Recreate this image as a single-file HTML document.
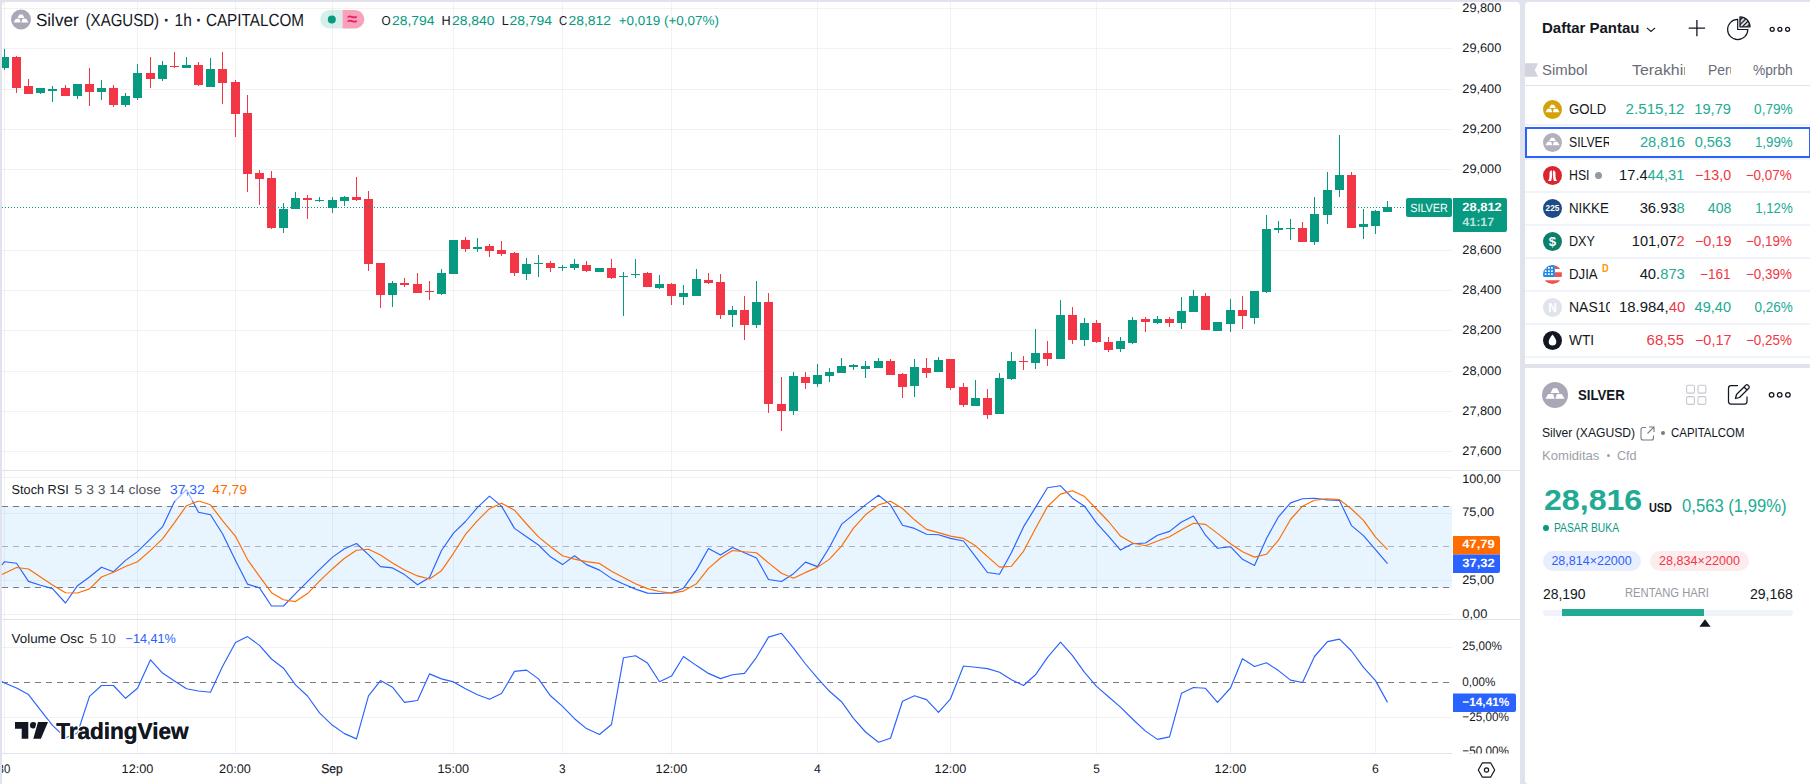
<!DOCTYPE html>
<html lang="id">
<head>
<meta charset="utf-8">
<title>Silver (XAGUSD) 1h CAPITALCOM</title>
<style>
*{box-sizing:border-box;margin:0;padding:0}
html,body{width:1810px;height:784px;overflow:hidden;background:#e0e3eb;font-family:"Liberation Sans",sans-serif;color:#131722}
.chart{position:absolute;left:0;top:0;display:block}
.side{position:absolute;left:1525px;width:285px;background:#fff}
.wl{top:2px;height:362px;border-radius:4px 0 0 0}
.det{top:368px;height:416px;border-radius:0 0 0 4px}
.abs{position:absolute;white-space:nowrap;line-height:1}
.fx{display:inline-block;white-space:nowrap;transform-origin:0 50%}
.fxr{transform-origin:100% 50%}
.fxc{transform-origin:50% 50%}
.hd{font-weight:bold;font-size:15px;left:17.4px;top:18.3px}
.colh{font-size:14px;color:#6a6d78;top:60.6px}
.row{position:absolute;left:0;width:285px;height:33px;font-size:14px}
.sep{position:absolute;left:0;width:285px;height:2px;background:#f0f3fa}
.ic{position:absolute;left:18px;top:7px;width:19px;height:19px;border-radius:50%;overflow:hidden}
.sym{position:absolute;left:44.2px;top:9.4px;line-height:1;white-space:nowrap;overflow:hidden;height:16px}
.v{position:absolute;top:9.4px;line-height:1;white-space:nowrap;text-align:right}
.last{right:125.5px}
.chg{right:79px}
.pct{right:17.7px}
.g{color:#22ab94}.r{color:#f23645}
.sel{position:absolute;left:0;top:125px;width:285px;height:31px;border:2px solid #2962ff;border-right-width:1.5px;pointer-events:none}
</style>
</head>
<body>
<svg class="chart" width="1521" height="784" viewBox="0 0 1521 784" shape-rendering="crispEdges" text-rendering="geometricPrecision">
<path d="M2 784V6a4 4 0 0 1 4-4H1516a4 4 0 0 1 4 4V784z" fill="#fff" shape-rendering="auto"/>
<g stroke-opacity="0.062" stroke-width="1">
<line x1="4.5" y1="2" x2="4.5" y2="753" stroke="#2a2e39" />
<line x1="137.5" y1="2" x2="137.5" y2="753" stroke="#2a2e39" />
<line x1="235.5" y1="2" x2="235.5" y2="753" stroke="#2a2e39" />
<line x1="332.5" y1="2" x2="332.5" y2="753" stroke="#2a2e39" />
<line x1="453.5" y1="2" x2="453.5" y2="753" stroke="#2a2e39" />
<line x1="562.5" y1="2" x2="562.5" y2="753" stroke="#2a2e39" />
<line x1="671.5" y1="2" x2="671.5" y2="753" stroke="#2a2e39" />
<line x1="817.5" y1="2" x2="817.5" y2="753" stroke="#2a2e39" />
<line x1="950.5" y1="2" x2="950.5" y2="753" stroke="#2a2e39" />
<line x1="1096.5" y1="2" x2="1096.5" y2="753" stroke="#2a2e39" />
<line x1="1230.5" y1="2" x2="1230.5" y2="753" stroke="#2a2e39" />
<line x1="1375.5" y1="2" x2="1375.5" y2="753" stroke="#2a2e39" />
<line x1="2" y1="8.5" x2="1452" y2="8.5" stroke="#2a2e39" />
<line x1="2" y1="48.5" x2="1452" y2="48.5" stroke="#2a2e39" />
<line x1="2" y1="89.5" x2="1452" y2="89.5" stroke="#2a2e39" />
<line x1="2" y1="129.5" x2="1452" y2="129.5" stroke="#2a2e39" />
<line x1="2" y1="169.5" x2="1452" y2="169.5" stroke="#2a2e39" />
<line x1="2" y1="250.5" x2="1452" y2="250.5" stroke="#2a2e39" />
<line x1="2" y1="290.5" x2="1452" y2="290.5" stroke="#2a2e39" />
<line x1="2" y1="330.5" x2="1452" y2="330.5" stroke="#2a2e39" />
<line x1="2" y1="371.5" x2="1452" y2="371.5" stroke="#2a2e39" />
<line x1="2" y1="411.5" x2="1452" y2="411.5" stroke="#2a2e39" />
<line x1="2" y1="451.5" x2="1452" y2="451.5" stroke="#2a2e39" />
<line x1="2" y1="477.5" x2="1452" y2="477.5" stroke="#2a2e39" />
<line x1="2" y1="513.5" x2="1452" y2="513.5" stroke="#2a2e39" />
<line x1="2" y1="580.5" x2="1452" y2="580.5" stroke="#2a2e39" />
<line x1="2" y1="614.5" x2="1452" y2="614.5" stroke="#2a2e39" />
<line x1="2" y1="647.5" x2="1452" y2="647.5" stroke="#2a2e39" />
<line x1="2" y1="717.5" x2="1452" y2="717.5" stroke="#2a2e39" />
</g>
<rect x="2" y="505.5" width="1450" height="82" fill="#2196f3" fill-opacity="0.1"/>
<line x1="2" y1="470.5" x2="1520" y2="470.5" stroke="#e0e3eb" />
<line x1="2" y1="619.5" x2="1520" y2="619.5" stroke="#e0e3eb" />
<line x1="2" y1="753.5" x2="1452" y2="753.5" stroke="#e0e3eb" />
<line x1="2" y1="506" x2="1452" y2="506" stroke="#787b86" stroke-dasharray="6 5"/>
<line x1="2" y1="587.5" x2="1452" y2="587.5" stroke="#787b86" stroke-dasharray="6 5"/>
<line x1="2" y1="546.5" x2="1452" y2="546.5" stroke="#787b86" stroke-opacity="0.55" stroke-dasharray="6 5"/>
<line x1="2" y1="682.5" x2="1452" y2="682.5" stroke="#787b86" stroke-dasharray="6 5"/>
<g fill="#089981">
<rect x="4" y="49" width="1" height="21"/>
<rect x="2" y="57" width="7" height="11"/>
<rect x="40" y="88" width="1" height="6"/>
<rect x="36" y="88" width="9" height="5"/>
<rect x="52" y="86" width="1" height="16"/>
<rect x="48" y="89" width="9" height="2"/>
<rect x="77" y="84" width="1" height="15"/>
<rect x="73" y="84" width="9" height="12"/>
<rect x="101" y="80" width="1" height="20"/>
<rect x="97" y="88" width="9" height="4"/>
<rect x="125" y="93" width="1" height="14"/>
<rect x="121" y="96" width="9" height="9"/>
<rect x="137" y="64" width="1" height="36"/>
<rect x="133" y="73" width="9" height="25"/>
<rect x="162" y="61" width="1" height="20"/>
<rect x="158" y="65" width="9" height="14"/>
<rect x="186" y="57" width="1" height="11"/>
<rect x="182" y="65" width="9" height="3"/>
<rect x="210" y="58" width="1" height="29"/>
<rect x="206" y="69" width="9" height="18"/>
<rect x="283" y="203" width="1" height="30"/>
<rect x="279" y="209" width="9" height="19"/>
<rect x="295" y="192" width="1" height="17"/>
<rect x="291" y="198" width="9" height="11"/>
<rect x="319" y="197" width="1" height="5"/>
<rect x="315" y="200" width="9" height="1"/>
<rect x="332" y="197" width="1" height="16"/>
<rect x="328" y="200" width="9" height="8"/>
<rect x="344" y="196" width="1" height="10"/>
<rect x="340" y="197" width="9" height="4"/>
<rect x="392" y="281" width="1" height="26"/>
<rect x="388" y="283" width="9" height="12"/>
<rect x="441" y="269" width="1" height="26"/>
<rect x="437" y="273" width="9" height="21"/>
<rect x="453" y="240" width="1" height="34"/>
<rect x="449" y="240" width="9" height="34"/>
<rect x="477" y="238" width="1" height="14"/>
<rect x="473" y="247" width="9" height="2"/>
<rect x="526" y="258" width="1" height="22"/>
<rect x="522" y="264" width="9" height="10"/>
<rect x="538" y="255" width="1" height="22"/>
<rect x="534" y="263" width="9" height="1"/>
<rect x="562" y="265" width="1" height="6"/>
<rect x="558" y="267" width="9" height="1"/>
<rect x="574" y="259" width="1" height="11"/>
<rect x="570" y="264" width="9" height="4"/>
<rect x="599" y="268" width="1" height="4"/>
<rect x="595" y="268" width="9" height="4"/>
<rect x="623" y="272" width="1" height="44"/>
<rect x="619" y="276" width="9" height="1"/>
<rect x="635" y="259" width="1" height="19"/>
<rect x="631" y="274" width="9" height="1"/>
<rect x="659" y="275" width="1" height="14"/>
<rect x="655" y="284" width="9" height="4"/>
<rect x="683" y="285" width="1" height="20"/>
<rect x="679" y="293" width="9" height="4"/>
<rect x="696" y="269" width="1" height="27"/>
<rect x="692" y="279" width="9" height="17"/>
<rect x="732" y="306" width="1" height="21"/>
<rect x="728" y="310" width="9" height="5"/>
<rect x="756" y="281" width="1" height="47"/>
<rect x="752" y="302" width="9" height="23"/>
<rect x="793" y="372" width="1" height="43"/>
<rect x="789" y="376" width="9" height="35"/>
<rect x="817" y="364" width="1" height="23"/>
<rect x="813" y="375" width="9" height="9"/>
<rect x="829" y="368" width="1" height="14"/>
<rect x="825" y="372" width="9" height="4"/>
<rect x="841" y="358" width="1" height="15"/>
<rect x="837" y="366" width="9" height="7"/>
<rect x="853" y="364" width="1" height="6"/>
<rect x="849" y="365" width="9" height="2"/>
<rect x="865" y="361" width="1" height="17"/>
<rect x="861" y="366" width="9" height="3"/>
<rect x="878" y="358" width="1" height="10"/>
<rect x="874" y="361" width="9" height="7"/>
<rect x="914" y="359" width="1" height="38"/>
<rect x="910" y="367" width="9" height="19"/>
<rect x="938" y="357" width="1" height="15"/>
<rect x="934" y="360" width="9" height="12"/>
<rect x="975" y="380" width="1" height="26"/>
<rect x="971" y="398" width="9" height="8"/>
<rect x="999" y="373" width="1" height="41"/>
<rect x="995" y="378" width="9" height="36"/>
<rect x="1011" y="352" width="1" height="28"/>
<rect x="1007" y="361" width="9" height="18"/>
<rect x="1035" y="329" width="1" height="40"/>
<rect x="1031" y="353" width="9" height="10"/>
<rect x="1060" y="300" width="1" height="59"/>
<rect x="1056" y="315" width="9" height="44"/>
<rect x="1084" y="318" width="1" height="28"/>
<rect x="1080" y="323" width="9" height="17"/>
<rect x="1120" y="337" width="1" height="15"/>
<rect x="1116" y="341" width="9" height="8"/>
<rect x="1132" y="317" width="1" height="27"/>
<rect x="1128" y="320" width="9" height="23"/>
<rect x="1157" y="316" width="1" height="8"/>
<rect x="1153" y="319" width="9" height="4"/>
<rect x="1181" y="297" width="1" height="32"/>
<rect x="1177" y="311" width="9" height="12"/>
<rect x="1193" y="290" width="1" height="22"/>
<rect x="1189" y="296" width="9" height="16"/>
<rect x="1217" y="322" width="1" height="9"/>
<rect x="1213" y="322" width="9" height="9"/>
<rect x="1230" y="299" width="1" height="33"/>
<rect x="1226" y="310" width="9" height="14"/>
<rect x="1254" y="291" width="1" height="33"/>
<rect x="1250" y="291" width="9" height="27"/>
<rect x="1266" y="215" width="1" height="78"/>
<rect x="1262" y="229" width="9" height="63"/>
<rect x="1278" y="221" width="1" height="12"/>
<rect x="1274" y="228" width="9" height="2"/>
<rect x="1290" y="219" width="1" height="21"/>
<rect x="1286" y="228" width="9" height="1"/>
<rect x="1314" y="197" width="1" height="48"/>
<rect x="1310" y="214" width="9" height="28"/>
<rect x="1327" y="172" width="1" height="52"/>
<rect x="1323" y="190" width="9" height="25"/>
<rect x="1339" y="135" width="1" height="62"/>
<rect x="1335" y="175" width="9" height="15"/>
<rect x="1363" y="209" width="1" height="30"/>
<rect x="1359" y="224" width="9" height="3"/>
<rect x="1375" y="210" width="1" height="24"/>
<rect x="1371" y="211" width="9" height="15"/>
<rect x="1387" y="201" width="1" height="11"/>
<rect x="1383" y="207" width="9" height="5"/>
</g>
<g fill="#f23645">
<rect x="16" y="56" width="1" height="37"/>
<rect x="12" y="57" width="9" height="31"/>
<rect x="28" y="79" width="1" height="15"/>
<rect x="24" y="86" width="9" height="8"/>
<rect x="65" y="85" width="1" height="11"/>
<rect x="61" y="88" width="9" height="8"/>
<rect x="89" y="68" width="1" height="38"/>
<rect x="85" y="84" width="9" height="8"/>
<rect x="113" y="85" width="1" height="22"/>
<rect x="109" y="88" width="9" height="17"/>
<rect x="150" y="57" width="1" height="31"/>
<rect x="146" y="73" width="9" height="6"/>
<rect x="174" y="52" width="1" height="16"/>
<rect x="170" y="66" width="9" height="1"/>
<rect x="198" y="62" width="1" height="24"/>
<rect x="194" y="65" width="9" height="20"/>
<rect x="222" y="52" width="1" height="52"/>
<rect x="218" y="69" width="9" height="14"/>
<rect x="235" y="80" width="1" height="57"/>
<rect x="231" y="82" width="9" height="32"/>
<rect x="247" y="95" width="1" height="97"/>
<rect x="243" y="113" width="9" height="61"/>
<rect x="259" y="170" width="1" height="35"/>
<rect x="255" y="173" width="9" height="6"/>
<rect x="271" y="171" width="1" height="58"/>
<rect x="267" y="178" width="9" height="50"/>
<rect x="307" y="195" width="1" height="24"/>
<rect x="303" y="198" width="9" height="2"/>
<rect x="356" y="177" width="1" height="24"/>
<rect x="352" y="197" width="9" height="3"/>
<rect x="368" y="191" width="1" height="80"/>
<rect x="364" y="199" width="9" height="65"/>
<rect x="380" y="263" width="1" height="45"/>
<rect x="376" y="263" width="9" height="32"/>
<rect x="404" y="278" width="1" height="9"/>
<rect x="400" y="283" width="9" height="2"/>
<rect x="417" y="273" width="1" height="20"/>
<rect x="413" y="284" width="9" height="9"/>
<rect x="429" y="281" width="1" height="19"/>
<rect x="425" y="291" width="9" height="1"/>
<rect x="465" y="237" width="1" height="15"/>
<rect x="461" y="240" width="9" height="9"/>
<rect x="489" y="244" width="1" height="13"/>
<rect x="485" y="246" width="9" height="5"/>
<rect x="501" y="241" width="1" height="15"/>
<rect x="497" y="250" width="9" height="4"/>
<rect x="514" y="252" width="1" height="24"/>
<rect x="510" y="253" width="9" height="20"/>
<rect x="550" y="261" width="1" height="11"/>
<rect x="546" y="263" width="9" height="5"/>
<rect x="586" y="261" width="1" height="11"/>
<rect x="582" y="265" width="9" height="6"/>
<rect x="611" y="259" width="1" height="20"/>
<rect x="607" y="268" width="9" height="10"/>
<rect x="647" y="272" width="1" height="15"/>
<rect x="643" y="273" width="9" height="14"/>
<rect x="671" y="283" width="1" height="22"/>
<rect x="667" y="284" width="9" height="12"/>
<rect x="708" y="273" width="1" height="11"/>
<rect x="704" y="280" width="9" height="3"/>
<rect x="720" y="274" width="1" height="45"/>
<rect x="716" y="282" width="9" height="33"/>
<rect x="744" y="296" width="1" height="44"/>
<rect x="740" y="310" width="9" height="15"/>
<rect x="768" y="293" width="1" height="120"/>
<rect x="764" y="302" width="9" height="102"/>
<rect x="781" y="377" width="1" height="54"/>
<rect x="777" y="404" width="9" height="7"/>
<rect x="805" y="372" width="1" height="17"/>
<rect x="801" y="377" width="9" height="6"/>
<rect x="890" y="359" width="1" height="16"/>
<rect x="886" y="361" width="9" height="14"/>
<rect x="902" y="373" width="1" height="25"/>
<rect x="898" y="374" width="9" height="13"/>
<rect x="926" y="358" width="1" height="20"/>
<rect x="922" y="368" width="9" height="5"/>
<rect x="950" y="359" width="1" height="31"/>
<rect x="946" y="359" width="9" height="29"/>
<rect x="963" y="383" width="1" height="24"/>
<rect x="959" y="387" width="9" height="18"/>
<rect x="987" y="389" width="1" height="30"/>
<rect x="983" y="398" width="9" height="17"/>
<rect x="1023" y="356" width="1" height="14"/>
<rect x="1019" y="361" width="9" height="1"/>
<rect x="1047" y="341" width="1" height="25"/>
<rect x="1043" y="353" width="9" height="6"/>
<rect x="1072" y="307" width="1" height="37"/>
<rect x="1068" y="315" width="9" height="25"/>
<rect x="1096" y="320" width="1" height="23"/>
<rect x="1092" y="323" width="9" height="19"/>
<rect x="1108" y="337" width="1" height="15"/>
<rect x="1104" y="342" width="9" height="8"/>
<rect x="1145" y="317" width="1" height="15"/>
<rect x="1141" y="319" width="9" height="3"/>
<rect x="1169" y="317" width="1" height="10"/>
<rect x="1165" y="319" width="9" height="4"/>
<rect x="1205" y="293" width="1" height="37"/>
<rect x="1201" y="296" width="9" height="34"/>
<rect x="1242" y="296" width="1" height="33"/>
<rect x="1238" y="310" width="9" height="6"/>
<rect x="1302" y="222" width="1" height="20"/>
<rect x="1298" y="228" width="9" height="14"/>
<rect x="1351" y="172" width="1" height="56"/>
<rect x="1347" y="175" width="9" height="53"/>
</g>
<line x1="2" y1="207.5" x2="1406" y2="207.5" stroke="#089981" stroke-dasharray="1 2"/>
<polyline points="2,565 4.5,561.7 16.5,563.2 28.5,581.4 40.5,585.3 52.5,588.6 65.5,603 77.5,585.7 89.5,577 101.5,567.2 113.5,571.7 125.5,560.4 137.5,551.6 150.5,538.8 162.5,526.9 174.5,501.5 186.5,489.6 198.5,512.3 210.5,514.8 222.5,533.8 235.5,560.4 247.5,584.1 259.5,587.9 271.5,606 283.5,606 295.5,593.6 307.5,581.7 319.5,569.6 332.5,557.1 344.5,548.8 356.5,543.5 368.5,554.7 380.5,566.6 392.5,567.9 404.5,574.6 417.5,584.8 429.5,577.4 441.5,550.5 453.5,533.1 465.5,521.5 477.5,507.4 489.5,496.1 501.5,506.1 514.5,528.4 526.5,536.7 538.5,545 550.5,556.8 562.5,564.6 574.5,555.8 586.5,564.6 599.5,570.1 611.5,578.4 623.5,584 635.5,589.1 647.5,593.1 659.5,593.5 671.5,592.8 683.5,588.2 696.5,569.9 708.5,548.5 720.5,555 732.5,547.5 744.5,552.7 756.5,558 768.5,579.5 781.5,581.5 793.5,573.7 805.5,562.1 817.5,566.6 829.5,547.2 841.5,524.4 853.5,514.6 865.5,504.9 878.5,495.3 890.5,504.9 902.5,525.3 914.5,528.4 926.5,534.2 938.5,534.7 950.5,538.4 963.5,541 975.5,556.6 987.5,572.5 999.5,574.2 1011.5,552.5 1023.5,526.9 1035.5,507.4 1047.5,487.8 1060.5,485.8 1072.5,498.2 1084.5,506.2 1096.5,522.8 1108.5,536.1 1120.5,550.1 1132.5,543.8 1145.5,543 1157.5,535.2 1169.5,531.4 1181.5,522 1193.5,516 1205.5,535.2 1217.5,548.3 1230.5,546.7 1242.5,559.3 1254.5,565.4 1266.5,538.5 1278.5,516.8 1290.5,502.9 1302.5,498.7 1314.5,498.2 1327.5,499.9 1339.5,500.4 1351.5,525.6 1363.5,535.6 1375.5,549.7 1387.5,563.6" fill="none" stroke="#2962ff" stroke-width="1.15" stroke-linejoin="round" shape-rendering="geometricPrecision"/>
<polyline points="2,574.5 4.5,573.2 16.5,567.5 28.5,569 40.5,577 52.5,584.9 65.5,592.7 77.5,593 89.5,588.9 101.5,577 113.5,572.3 125.5,566.5 137.5,561.7 150.5,550.4 162.5,538.8 174.5,522.7 186.5,505.7 198.5,501 210.5,504.8 222.5,520.6 235.5,536.3 247.5,559.6 259.5,576.4 271.5,592.7 283.5,599.7 295.5,601.6 307.5,593.6 319.5,581.2 332.5,568.7 344.5,558.3 356.5,550.3 368.5,549.2 380.5,555.1 392.5,562.9 404.5,569.9 417.5,575.9 429.5,579 441.5,570.7 453.5,553.3 465.5,534.4 477.5,520.7 489.5,508.7 501.5,503.2 514.5,510.2 526.5,524 538.5,536.9 550.5,546.7 562.5,555.8 574.5,559.1 586.5,561.6 599.5,563.4 611.5,571.2 623.5,577.5 635.5,583.7 647.5,588.6 659.5,591.5 671.5,593.1 683.5,591.1 696.5,583.7 708.5,568.4 720.5,558 732.5,550.5 744.5,551.8 756.5,552.7 768.5,562.9 781.5,573.2 793.5,578.2 805.5,572.4 817.5,567.4 829.5,559.1 841.5,546.1 853.5,528.1 865.5,514.8 878.5,504.9 890.5,501.2 902.5,508.5 914.5,519.8 926.5,529.4 938.5,532.6 950.5,536.1 963.5,538.4 975.5,545.8 987.5,556.6 999.5,567.1 1011.5,566.2 1023.5,551.3 1035.5,528.6 1047.5,506.5 1060.5,494.1 1072.5,490.8 1084.5,496.6 1096.5,509 1108.5,521.5 1120.5,536.1 1132.5,543 1145.5,545.8 1157.5,541 1169.5,536.7 1181.5,529.8 1193.5,523.3 1205.5,524.4 1217.5,533.4 1230.5,543.8 1242.5,551.8 1254.5,557.1 1266.5,554.3 1278.5,540.2 1290.5,519.5 1302.5,506.2 1314.5,500.2 1327.5,498.7 1339.5,499.6 1351.5,509 1363.5,520.3 1375.5,537.2 1387.5,549.7" fill="none" stroke="#ff6d00" stroke-width="1.15" stroke-linejoin="round" shape-rendering="geometricPrecision"/>
<polyline points="2,681.5 4.5,683 16.5,688 28.5,694.6 40.5,710.2 52.5,725.3 65.5,737.7 77.5,733 89.5,696.4 101.5,685.5 113.5,685.5 125.5,698.3 137.5,688.3 150.5,659.8 162.5,673.1 174.5,680.9 186.5,688.8 198.5,691 210.5,692.2 222.5,666.5 235.5,642.4 247.5,636.6 259.5,645.4 271.5,659 283.5,668.2 295.5,684.8 307.5,696 319.5,712.9 332.5,725.3 344.5,733.6 356.5,738.9 368.5,695.8 380.5,680.6 392.5,687.2 404.5,702.4 417.5,700.5 429.5,673.9 441.5,678.9 453.5,681.9 465.5,688.8 477.5,694.7 489.5,699.3 501.5,693.5 514.5,671.4 526.5,670.1 538.5,678.9 550.5,695.8 562.5,706.4 574.5,718.7 586.5,728.6 599.5,734.5 611.5,724.5 623.5,657.7 635.5,655.7 647.5,663.1 659.5,681.7 671.5,676.1 683.5,656.5 696.5,665.6 708.5,673.4 720.5,678.6 732.5,674.8 744.5,673.4 756.5,657.3 768.5,637.1 781.5,633.3 793.5,648.2 805.5,664 817.5,678.1 829.5,691.3 841.5,701.7 853.5,718.3 865.5,732 878.5,742.2 890.5,738.3 902.5,701.3 914.5,695.8 926.5,699.6 938.5,712.4 950.5,698.8 963.5,666 975.5,667.3 987.5,668.6 999.5,672.3 1011.5,679.7 1023.5,685.5 1035.5,674.8 1047.5,657.3 1060.5,642.1 1072.5,655.7 1084.5,672.3 1096.5,686.4 1108.5,696.8 1120.5,707.1 1132.5,719 1145.5,731.1 1157.5,739.4 1169.5,736.9 1181.5,693.3 1193.5,687.5 1205.5,688.3 1217.5,702.4 1230.5,688 1242.5,658.7 1254.5,666.5 1266.5,662.8 1278.5,670.6 1290.5,680.1 1302.5,682.5 1314.5,656.5 1327.5,641.6 1339.5,639.1 1351.5,651 1363.5,667.3 1375.5,680.6 1387.5,702.4" fill="none" stroke="#2962ff" stroke-width="1.15" stroke-linejoin="round" shape-rendering="geometricPrecision"/>
<g font-family='"Liberation Sans", sans-serif' font-size="12.4" fill="#131722" shape-rendering="auto">
<text x="1462.3" y="12.1" textLength="39" lengthAdjust="spacingAndGlyphs" >29,800</text>
<text x="1462.3" y="52.1" textLength="39" lengthAdjust="spacingAndGlyphs" >29,600</text>
<text x="1462.3" y="93.1" textLength="39" lengthAdjust="spacingAndGlyphs" >29,400</text>
<text x="1462.3" y="133.1" textLength="39" lengthAdjust="spacingAndGlyphs" >29,200</text>
<text x="1462.3" y="173.1" textLength="39" lengthAdjust="spacingAndGlyphs" >29,000</text>
<text x="1462.3" y="254.1" textLength="39" lengthAdjust="spacingAndGlyphs" >28,600</text>
<text x="1462.3" y="294.1" textLength="39" lengthAdjust="spacingAndGlyphs" >28,400</text>
<text x="1462.3" y="334.1" textLength="39" lengthAdjust="spacingAndGlyphs" >28,200</text>
<text x="1462.3" y="375.1" textLength="39" lengthAdjust="spacingAndGlyphs" >28,000</text>
<text x="1462.3" y="415.1" textLength="39" lengthAdjust="spacingAndGlyphs" >27,800</text>
<text x="1462.3" y="455.1" textLength="39" lengthAdjust="spacingAndGlyphs" >27,600</text>
<text x="1462.3" y="482.9" textLength="38.6" lengthAdjust="spacingAndGlyphs" >100,00</text>
<text x="1462.3" y="515.6" textLength="31.8" lengthAdjust="spacingAndGlyphs" >75,00</text>
<text x="1462.3" y="583.6" textLength="31.8" lengthAdjust="spacingAndGlyphs" >25,00</text>
<text x="1462.3" y="617.6" textLength="25" lengthAdjust="spacingAndGlyphs" >0,00</text>
<text x="1462.3" y="650.1" textLength="39.6" lengthAdjust="spacingAndGlyphs" >25,00%</text>
<text x="1462.3" y="685.6" textLength="33" lengthAdjust="spacingAndGlyphs" >0,00%</text>
<text x="1462.3" y="721.1" textLength="46.5" lengthAdjust="spacingAndGlyphs" >−25,00%</text>
<clipPath id="cpb"><rect x="1453" y="730" width="67" height="23.5"/></clipPath>
<text x="1462.3" y="754.9" textLength="46.5" lengthAdjust="spacingAndGlyphs" clip-path="url(#cpb)">−50,00%</text>
<clipPath id="cpt"><rect x="2" y="754" width="1518" height="30"/></clipPath><g clip-path="url(#cpt)">
<text x="3.9" y="773.4" text-anchor="middle" textLength="12.7" lengthAdjust="spacingAndGlyphs">30</text>
<text x="137.5" y="773.4" text-anchor="middle" textLength="31.8" lengthAdjust="spacingAndGlyphs">12:00</text>
<text x="235" y="773.4" text-anchor="middle" textLength="31.8" lengthAdjust="spacingAndGlyphs">20:00</text>
<text x="332" y="773.4" text-anchor="middle" textLength="21.5" lengthAdjust="spacingAndGlyphs" stroke="#131722" stroke-width="0.220" font-size="12.800">Sep</text>
<text x="453.3" y="773.4" text-anchor="middle" textLength="31.8" lengthAdjust="spacingAndGlyphs">15:00</text>
<text x="562.3" y="773.4" text-anchor="middle" textLength="6.6" lengthAdjust="spacingAndGlyphs">3</text>
<text x="671.5" y="773.4" text-anchor="middle" textLength="31.8" lengthAdjust="spacingAndGlyphs">12:00</text>
<text x="817.5" y="773.4" text-anchor="middle" textLength="6.8" lengthAdjust="spacingAndGlyphs">4</text>
<text x="950.5" y="773.4" text-anchor="middle" textLength="31.8" lengthAdjust="spacingAndGlyphs">12:00</text>
<text x="1096.5" y="773.4" text-anchor="middle" textLength="6.6" lengthAdjust="spacingAndGlyphs">5</text>
<text x="1230.5" y="773.4" text-anchor="middle" textLength="31.8" lengthAdjust="spacingAndGlyphs">12:00</text>
<text x="1375.5" y="773.4" text-anchor="middle" textLength="6.8" lengthAdjust="spacingAndGlyphs">6</text>
</g></g>
<g shape-rendering="auto" font-family='"Liberation Sans", sans-serif' font-size="12" fill="#fff">
<rect x="1406" y="198" width="46" height="19" rx="2" fill="#089981"/>
<text x="1429" y="212" text-anchor="middle" textLength="37.5" lengthAdjust="spacingAndGlyphs">SILVER</text>
<path d="M1453 198h52a2 2 0 0 1 2 2v30a2 2 0 0 1-2 2h-52z" fill="#089981"/>
<text x="1462.3" y="210.800" font-weight="bold" textLength="39.500" lengthAdjust="spacingAndGlyphs">28,812</text>
<text x="1462.3" y="226" font-weight="bold" fill-opacity="0.72" textLength="32" lengthAdjust="spacingAndGlyphs">41:17</text>
<path d="M1453 536h45a2 2 0 0 1 2 2v16.5h-47z" fill="#ff6d00"/>
<path d="M1453 554.5h47v16.5a2 2 0 0 1-2 2h-45z" fill="#2962ff"/>
<text x="1462.3" y="548.400" font-weight="bold" textLength="32.5" lengthAdjust="spacingAndGlyphs">47,79</text>
<text x="1462.3" y="566.700" font-weight="bold" textLength="32.5" lengthAdjust="spacingAndGlyphs">37,32</text>
<path d="M1453 693.5h61a2 2 0 0 1 2 2v14.5a2 2 0 0 1-2 2h-61z" fill="#2962ff"/>
<text x="1462.3" y="705.900" font-weight="bold" textLength="47" lengthAdjust="spacingAndGlyphs">−14,41%</text>
</g>
<g shape-rendering="geometricPrecision" fill="none" stroke="#131722" stroke-width="1.2"><path d="M1478.3 770l4.1-7.2h8.2l4.1 7.2-4.1 7.2h-8.2z" stroke-linejoin="round"/><circle cx="1486.5" cy="770" r="2.1"/></g>
<g shape-rendering="geometricPrecision" font-family='"Liberation Sans", sans-serif'>
<circle cx="21" cy="19.5" r="10" fill="#aaa8b8"/>
<g fill="#fff" transform="translate(11,9.5)"><path d="M8.5 4.9h3.1l1.9 3.5H6.5z"/><path d="M4.8 9.3h3.8l1.1 3.6H2.6z"/><path d="M11.4 9.3h3.8l2.2 3.6H10.3z"/></g>
<text x="35.9" y="25.800" font-size="17.500" fill="#131722" textLength="42.8" lengthAdjust="spacingAndGlyphs">Silver</text>
<text x="85.6" y="25.800" font-size="17.500" fill="#131722" textLength="73.5" lengthAdjust="spacingAndGlyphs">(XAGUSD)</text>
<text x="174.6" y="25.800" font-size="17.500" fill="#131722" textLength="17.2" lengthAdjust="spacingAndGlyphs">1h</text>
<text x="205.9" y="25.800" font-size="17.500" fill="#131722" textLength="98.1" lengthAdjust="spacingAndGlyphs">CAPITALCOM</text>
<text x="166.600" y="25.800" font-size="17.500" font-weight="bold" fill="#131722" text-anchor="middle">·</text><text x="198.900" y="25.800" font-size="17.500" font-weight="bold" fill="#131722" text-anchor="middle">·</text>
<path d="M329.5 10h13v18.500h-13a9.250 9.250 0 0 1 0-18.500z" fill="#089981" fill-opacity="0.16"/>
<path d="M342.500 10h12.500a9.250 9.250 0 0 1 0 18.500h-12.500z" fill="#f7a1bb"/>
<circle cx="331.8" cy="19.5" r="4" fill="#089981"/>
<text x="352.300" y="25.400" font-size="18" font-weight="bold" fill="#e91e63" text-anchor="middle">≈</text>
<text x="381.6" y="25.3" font-size="13" fill="#131722" textLength="9.2" lengthAdjust="spacingAndGlyphs">O</text>
<text x="392" y="25.3" font-size="13" fill="#089981" textLength="42.6" lengthAdjust="spacingAndGlyphs">28,794</text>
<text x="441.5" y="25.3" font-size="13" fill="#131722" textLength="9.2" lengthAdjust="spacingAndGlyphs">H</text>
<text x="452" y="25.3" font-size="13" fill="#089981" textLength="42.6" lengthAdjust="spacingAndGlyphs">28,840</text>
<text x="501.7" y="25.3" font-size="13" fill="#131722" textLength="7" lengthAdjust="spacingAndGlyphs">L</text>
<text x="509.5" y="25.3" font-size="13" fill="#089981" textLength="42.6" lengthAdjust="spacingAndGlyphs">28,794</text>
<text x="559" y="25.3" font-size="13" fill="#131722" textLength="8.2" lengthAdjust="spacingAndGlyphs">C</text>
<text x="568.4" y="25.3" font-size="13" fill="#089981" textLength="42.6" lengthAdjust="spacingAndGlyphs">28,812</text>
<text x="618.7" y="25.3" font-size="13" fill="#089981" textLength="100.3" lengthAdjust="spacingAndGlyphs">+0,019 (+0,07%)</text>
<rect x="9" y="480" width="241" height="21" fill="#fff" fill-opacity="0.55"/>
<text x="11.6" y="494" font-size="13" fill="#131722" textLength="57.2" lengthAdjust="spacingAndGlyphs">Stoch RSI</text>
<text x="74.6" y="494" font-size="13" fill="#50535e" textLength="86.3" lengthAdjust="spacingAndGlyphs">5 3 3 14 close</text>
<text x="170" y="494" font-size="13" fill="#2962ff" textLength="34.8" lengthAdjust="spacingAndGlyphs">37,32</text>
<text x="212.3" y="494" font-size="13" fill="#ff6d00" textLength="34.8" lengthAdjust="spacingAndGlyphs">47,79</text>
<text x="11.6" y="642.8" font-size="13" fill="#131722" textLength="72.1" lengthAdjust="spacingAndGlyphs">Volume Osc</text>
<text x="89.5" y="642.8" font-size="13" fill="#50535e" textLength="26.3" lengthAdjust="spacingAndGlyphs">5 10</text>
<text x="125.5" y="642.8" font-size="13" fill="#2962ff" textLength="50.3" lengthAdjust="spacingAndGlyphs">−14,41%</text>
</g>
<g shape-rendering="geometricPrecision" fill="#131722" stroke="#fff" stroke-width="2.5" paint-order="stroke" stroke-linejoin="round">
<path d="M15 722h13.3v16.7h-6.6v-10H15z"/><circle cx="33.2" cy="725.3" r="3.2"/><path d="M38 722h10l-7.1 16.7h-7.6z" transform="translate(0,0)"/>
<text x="56.200" y="738.600" font-family='"Liberation Sans", sans-serif' font-size="23" font-weight="bold" textLength="132.400" lengthAdjust="spacingAndGlyphs" stroke-width="3">TradingView</text>
<text x="56.200" y="738.600" font-family='"Liberation Sans", sans-serif' font-size="23" font-weight="bold" textLength="132.400" lengthAdjust="spacingAndGlyphs" stroke="#131722" stroke-width="0.150">TradingView</text>
</g>
</svg>
<div class="side wl">
  <div class="abs hd"><span class="fx" style="transform:scaleX(0.9997)">Daftar Pantau</span></div>
  <svg class="abs" style="left:120px;top:13.700px" width="150" height="26" viewBox="0 0 150 26" fill="none" stroke="#131722" stroke-width="1.200">
    <defs><pattern id="hatch" width="3.200" height="3.200" patternUnits="userSpaceOnUse" patternTransform="rotate(-45 95 10.800)"><rect width="3.200" height="3.200" fill="#131722" stroke="none"/><rect y=".4" width="3.200" height="1.750" fill="#fff" stroke="none"/></pattern></defs>
    <path d="M1.900 11.800l4.100 3.600 4.100-3.600" stroke-width="1.100"/>
    <path d="M43.700 12.100h16.400M51.900 3.900v16.400" stroke-width="1.300"/>
    <path d="M92.700 3.400a10.100 10.100 0 1 0 10.100 10.100h-10.100z"/>
    <path d="M95 .8a10 10 0 0 1 10 10h-10z" fill="url(#hatch)" stroke-width="1.300" stroke-linejoin="round"/>
    <circle cx="127.200" cy="13.300" r="2" stroke-width="1.300"/><circle cx="134.900" cy="13.300" r="2" stroke-width="1.300"/><circle cx="142.600" cy="13.300" r="2" stroke-width="1.300"/>
  </svg>
  <svg class="abs" style="left:0;top:61px" width="14" height="14" viewBox="0 0 14 14"><path d="M0 .3h13l-3.200 6.700 3.200 6.700H0z" fill="#d1d4dc"/></svg>
  <div class="abs colh" style="left:17.4px"><span class="fx" style="transform:scaleX(1.0655)">Simbol</span></div>
  <div class="abs colh" style="left:106.700px;width:52.900px;height:18px;overflow:hidden"><span class="fx" style="transform:scaleX(1.1346)">Terakhir</span></div>
  <div class="abs colh" style="left:182.500px;width:23.700px;height:18px;overflow:hidden"><span class="fx" style="transform:scaleX(0.9925)">Perubahan</span></div>
  <div class="abs colh" style="left:227.700px"><span class="fx" style="transform:scaleX(0.9810)">%prbh</span></div>
  <div class="abs" style="left:0;top:83px;width:285px;height:1px;background:#e0e3eb"></div>

  <div class="sep" style="top:122.2px"></div><div class="sep" style="top:155.6px"></div><div class="sep" style="top:188.7px"></div><div class="sep" style="top:221.8px"></div><div class="sep" style="top:254.9px"></div><div class="sep" style="top:288px"></div><div class="sep" style="top:321.1px"></div><div class="sep" style="top:354.2px"></div>

  <div class="row" style="top:91px">
    <div class="ic" style="background:#d4a10a"><svg width="19" height="19" viewBox="0 0 20 20" fill="#fff"><path d="M8.5 4.9h3.100l1.900 3.500H6.500z"/><path d="M4.800 9.300h3.800l1.100 3.600H2.600z"/><path d="M11.400 9.300h3.800l2.200 3.600H10.300z"/></svg></div>
    <div class="sym"><span class="fx" style="transform:scaleX(0.9398)">GOLD</span></div>
    <div class="v last g"><span class="fx fxr" style="transform:scaleX(1.0807)">2.515,12</span></div><div class="v chg g"><span class="fx fxr" style="transform:scaleX(1.0500)">19,79</span></div><div class="v pct g"><span class="fx fxr" style="transform:scaleX(0.9722)">0,79%</span></div>
  </div>
  <div class="row" style="top:124px">
    <div class="ic" style="background:#b2b0bd"><svg width="19" height="19" viewBox="0 0 20 20" fill="#fff"><path d="M8.500 4.900h3.100l1.900 3.500H6.500z"/><path d="M4.800 9.300h3.800l1.100 3.600H2.600z"/><path d="M11.400 9.300h3.800l2.200 3.600H10.300z"/></svg></div>
    <div class="sym" style="width:40.300px"><span class="fx" style="transform:scaleX(0.8736)">SILVER</span></div>
    <div class="v last g"><span class="fx fxr" style="transform:scaleX(1.0484)">28,816</span></div><div class="v chg g"><span class="fx fxr" style="transform:scaleX(1.0386)">0,563</span></div><div class="v pct g"><span class="fx fxr" style="transform:scaleX(0.9521)">1,99%</span></div>
  </div>
  <div class="sel"></div>
  <div class="row" style="top:157px">
    <div class="ic" style="background:#dc2431"><svg width="19" height="19" viewBox="0 0 20 20" fill="#fff"><path d="M8.900 4.200L9.600 6.500L9.500 11Q9.300 14 8.500 15.900L5.300 15.900Q6.800 13.500 6.800 11L6.900 6.400Z"/><path d="M11.100 4.200L10.400 6.500L10.500 11Q10.700 14 11.500 15.900L14.700 15.900Q13.200 13.500 13.200 11L13.100 6.400Z"/></svg></div>
    <div class="sym"><span class="fx" style="transform:scaleX(0.8782)">HSI</span></div>
    <div class="abs" style="left:70px;top:13.300px;width:7px;height:7px;border-radius:50%;background:#9598a1"></div>
    <div class="v last"><span class="fx fxr" style="transform:scaleX(1.0466)">17.4<span class="g">44,31</span></span></div>
    <div class="v chg r" style="right:78.800px;width:36.500px;height:16px;overflow:hidden;text-align:left"><span class="fx" style="transform:scaleX(1.0181)">−13,01</span></div>
    <div class="v pct r"><span class="fx fxr" style="transform:scaleX(0.9650)">−0,07%</span></div>
  </div>
  <div class="row" style="top:190px">
    <div class="ic" style="background:#1e4a85"><svg width="19" height="19" viewBox="0 0 20 20"><text x="10" y="13.100" font-family="Liberation Sans, sans-serif" font-weight="bold" font-size="8.600" fill="#fff" text-anchor="middle" textLength="14.500" lengthAdjust="spacingAndGlyphs">225</text></svg></div>
    <div class="sym" style="width:40.300px"><span class="fx" style="transform:scaleX(0.9476)">NIKKEI</span></div>
    <div class="v last"><span class="fx fxr" style="transform:scaleX(1.0550)">36.93<span class="g">8</span></span></div><div class="v chg g"><span class="fx fxr" style="transform:scaleX(1.0060)">408</span></div><div class="v pct g"><span class="fx fxr" style="transform:scaleX(0.9445)">1,12%</span></div>
  </div>
  <div class="row" style="top:223px">
    <div class="ic" style="background:#0b7f69"><svg width="19" height="19" viewBox="0 0 20 20"><text x="10" y="15" font-family="Liberation Sans, sans-serif" font-weight="bold" font-size="14" fill="#fff" text-anchor="middle">$</text></svg></div>
    <div class="sym"><span class="fx" style="transform:scaleX(0.8994)">DXY</span></div>
    <div class="v last"><span class="fx fxr" style="transform:scaleX(1.0430)">101,07<span class="r">2</span></span></div><div class="v chg r"><span class="fx fxr" style="transform:scaleX(1.0300)">−0,19</span></div><div class="v pct r"><span class="fx fxr" style="transform:scaleX(0.9587)">−0,19%</span></div>
  </div>
  <div class="row" style="top:256px">
    <div class="ic" style="background:#fff"><svg width="19" height="19" viewBox="0 0 20 20"><rect width="20" height="20" fill="#fff"/><path d="M12.5 0H20v4.200H12.500zM12.500 7.600H20v5H12.500zM0 16H20v4H0z" fill="#ef5350"/><rect width="12.500" height="12.600" fill="#1e88e5"/><g fill="#fff"><rect x="1.85" y="2.05" width="1.9" height="1.9" rx=".3"/><rect x="5.25" y="2.05" width="1.9" height="1.9" rx=".3"/><rect x="8.45" y="2.05" width="1.9" height="1.9" rx=".3"/><rect x="1.85" y="5.45" width="1.9" height="1.9" rx=".3"/><rect x="5.25" y="5.45" width="1.9" height="1.9" rx=".3"/><rect x="8.45" y="5.45" width="1.9" height="1.9" rx=".3"/><rect x="1.85" y="8.65" width="1.9" height="1.9" rx=".3"/><rect x="5.25" y="8.65" width="1.9" height="1.9" rx=".3"/><rect x="8.45" y="8.65" width="1.9" height="1.9" rx=".3"/></g></svg></div>
    <div class="sym"><span class="fx" style="transform:scaleX(0.9458)">DJIA</span></div>
    <div class="abs" style="left:77.300px;top:5.700px;font-size:10px;font-weight:bold;color:#ff9800"><span class="fx" style="transform:scaleX(0.9261)">D</span></div>
    <div class="v last"><span class="fx fxr" style="transform:scaleX(1.0554)">40.<span class="g">873</span></span></div><div class="v chg r"><span class="fx fxr" style="transform:scaleX(0.9700)">−161</span></div><div class="v pct r"><span class="fx fxr" style="transform:scaleX(0.9587)">−0,39%</span></div>
  </div>
  <div class="row" style="top:289px">
    <div class="ic" style="background:#e0e3eb"><svg width="19" height="19" viewBox="0 0 20 20"><text x="10" y="14.400" font-family="Liberation Sans, sans-serif" font-weight="bold" font-size="12.500" fill="#fff" text-anchor="middle">N</text></svg></div>
    <div class="sym" style="width:40.500px"><span class="fx" style="transform:scaleX(0.9970)">NAS100</span></div>
    <div class="v last" style="right:124.500px"><span class="fx fxr" style="transform:scaleX(1.0643)">18.984,<span class="r">40</span></span></div><div class="v chg g"><span class="fx fxr" style="transform:scaleX(1.0415)">49,40</span></div><div class="v pct g"><span class="fx fxr" style="transform:scaleX(0.9647)">0,26%</span></div>
  </div>
  <div class="row" style="top:322px">
    <div class="ic" style="background:#131722"><svg width="19" height="19" viewBox="0 0 20 20"><path d="M10 3.600c2.400 3.100 4 5.400 4 7.600a4 4 0 0 1-8 0c0-2.200 1.600-4.500 4-7.600z" fill="#fff"/></svg></div>
    <div class="sym"><span class="fx" style="transform:scaleX(0.9744)">WTI</span></div>
    <div class="v last r"><span class="fx fxr" style="transform:scaleX(1.0700)">68,55</span></div><div class="v chg r"><span class="fx fxr" style="transform:scaleX(1.0300)">−0,17</span></div><div class="v pct r"><span class="fx fxr" style="transform:scaleX(0.9587)">−0,25%</span></div>
  </div>
</div>

<div class="side det">
  <div class="abs" style="left:17px;top:13.500px;width:26px;height:26px;border-radius:50%;background:#aaa8b6"><svg width="26" height="26" viewBox="0 0 20 20" fill="#fff"><path d="M8.500 4.900h3.100l1.900 3.500H6.500z"/><path d="M4.800 9.300h3.800l1.100 3.600H2.600z"/><path d="M11.400 9.300h3.800l2.200 3.600H10.300z"/></svg></div>
  <div class="abs" style="left:52.600px;top:19px;font-size:15px;font-weight:bold"><span class="fx" style="transform:scaleX(0.8798)">SILVER</span></div>
  <svg class="abs" style="left:158px;top:14px" width="112" height="26" viewBox="0 0 112 26" fill="none">
    <g stroke="#c5c8d0" stroke-width="1.100"><rect x="3.600" y="3.300" width="7.800" height="7.800" rx="1.300"/><rect x="15" y="3.300" width="7.800" height="7.800" rx="1.300"/><rect x="3.600" y="14.600" width="7.800" height="7.800" rx="1.300"/><rect x="15" y="14.600" width="7.800" height="7.800" rx="1.300"/></g>
    <g stroke="#131722" stroke-width="1.250"><path d="M55 3.500H48a2.500 2.500 0 0 0-2.500 2.500v13.500a2.500 2.500 0 0 0 2.500 2.500h13.500a2.500 2.500 0 0 0 2.500-2.500v-5"/><path d="M52.500 16.500l1-4 9.300-9.300a1.500 1.500 0 0 1 2.200 0l.8.800a1.500 1.500 0 0 1 0 2.200l-9.300 9.300z" stroke-linejoin="round"/><path d="M61 5l3 3"/>
    <circle cx="88.600" cy="12.800" r="2.300"/><circle cx="96.700" cy="12.800" r="2.300"/><circle cx="104.900" cy="12.800" r="2.300"/></g>
  </svg>
  <div class="abs" style="left:17.400px;top:58px;font-size:13.500px"><span class="fx" style="transform:scaleX(0.8994)">Silver (XAGUSD)</span></div>
  <svg class="abs" style="left:115.400px;top:58px" width="15" height="15" viewBox="0 0 15 15" fill="none" stroke="#787b86" stroke-width="1.100"><path d="M6 1.500H3a2 2 0 0 0-2 2v8.500a2 2 0 0 0 2 2h8.500a2 2 0 0 0 2-2V9.500"/><path d="M9 1h5v5M13.800 1.200L7.500 7.500"/></svg>
  <div class="abs" style="left:135.500px;top:63px;width:4px;height:4px;border-radius:50%;background:#787b86"></div>
  <div class="abs" style="left:146.200px;top:58px;font-size:13.500px"><span class="fx" style="transform:scaleX(0.8471)">CAPITALCOM</span></div>
  <div class="abs" style="left:17.400px;top:81px;font-size:13.500px;color:#9c9fa8"><span class="fx" style="transform:scaleX(0.9683)">Komiditas</span></div>
  <div class="abs" style="left:81.700px;top:86.200px;width:3px;height:3px;border-radius:50%;background:#9c9fa8"></div>
  <div class="abs" style="left:91.600px;top:81px;font-size:13.500px;color:#9c9fa8"><span class="fx" style="transform:scaleX(0.9326)">Cfd</span></div>
  <div class="abs g" style="left:19.400px;top:117px;font-size:30px;font-weight:bold"><span class="fx" style="transform:scaleX(1.0701)">28,816</span></div>
  <div class="abs" style="left:124px;top:134.300px;font-size:12.500px;font-weight:bold"><span class="fx" style="transform:scaleX(0.8710)">USD</span></div>
  <div class="abs g" style="left:157.200px;top:128.500px;font-size:18px"><span class="fx" style="transform:scaleX(0.9250)">0,563 (1,99%)</span></div>
  <div class="abs" style="left:18.200px;top:157px;width:6px;height:6px;border-radius:50%;background:#089981"></div>
  <div class="abs" style="left:28.900px;top:153.700px;font-size:12px;color:#089981"><span class="fx" style="transform:scaleX(0.8574)">PASAR BUKA</span></div>
  <div class="abs" style="left:17.700px;top:183px;width:98px;height:20px;border-radius:10px;background:#e9eefe;color:#2962ff;font-size:12px;text-align:center;line-height:20px"><span class="fx fxc" style="transform:scaleX(1.0416)">28,814×22000</span></div>
  <div class="abs" style="left:125px;top:183px;width:98.700px;height:20px;border-radius:10px;background:#fdecee;color:#f23645;font-size:12px;text-align:center;line-height:20px"><span class="fx fxc" style="transform:scaleX(1.0494)">28,834×22000</span></div>
  <div class="abs" style="left:17.700px;top:218.700px;font-size:14px"><span class="fx" style="transform:scaleX(0.9947)">28,190</span></div>
  <div class="abs" style="left:100.200px;top:219px;font-size:12px;color:#9598a1"><span class="fx" style="transform:scaleX(0.9354)">RENTANG HARI</span></div>
  <div class="abs" style="right:17.400px;top:218.700px;font-size:14px"><span class="fx fxr" style="transform:scaleX(1.0017)">29,168</span></div>
  <div class="abs" style="left:17.700px;top:242px;width:250px;height:6px;border-radius:3px;background:#f0f3fa"></div>
  <div class="abs" style="left:36.700px;top:241.200px;width:142.500px;height:7px;background:#22ab94"></div>
  <svg class="abs" style="left:173.500px;top:250.500px" width="12" height="8" viewBox="0 0 12 8"><path d="M6 .2L11.600 7.800H.4z" fill="#131722"/></svg>
</div>
</body>
</html>
